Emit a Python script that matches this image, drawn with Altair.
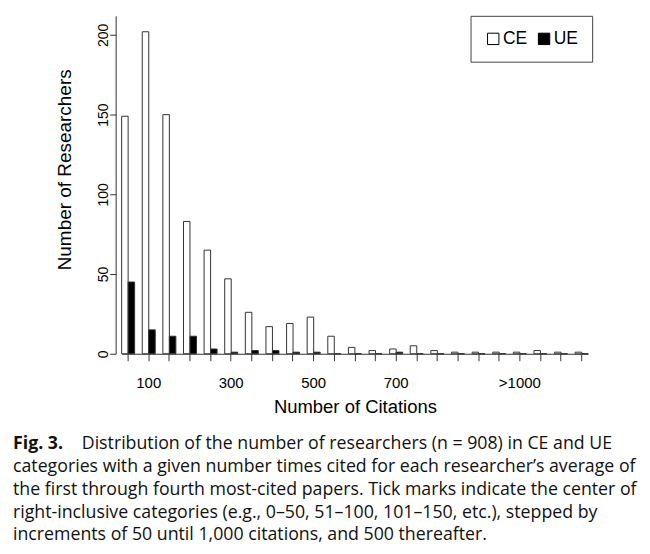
import altair as alt
import pandas as pd

# ---- data ----
categories = ["0–50", "51–100", "101–150", "151–200", "201–250", "251–300",
              "301–350", "351–400", "401–450", "451–500", "501–550", "551–600",
              "601–650", "651–700", "701–750", "751–800", "801–850", "851–900",
              "901–950", "951–1000", "1001–1500", "1501–2000", "2001–2500"]
ce_counts = [149, 202, 150, 83, 65, 47, 26, 17, 19, 23, 11, 4,
             2, 3, 5, 2, 1, 1, 1, 1, 2, 1, 1]
ue_counts = [45, 15, 11, 11, 3, 1, 2, 2, 1, 1, 0, 0,
             0, 1, 0, 0, 0, 0, 0, 0, 0, 0, 0]
series_names = ["CE", "UE"]
series_colors = ["white", "black"]
tick_categories = ["51–100", "251–300", "451–500", "651–700", "951–1000"]
tick_texts = ["100", "300", "500", "700", ">1000"]
y_ticks = [0, 50, 100, 150, 200]
caption_bold = "Fig. 3."
caption_lines = [
    "Distribution of the number of researchers (n = 908) in CE and UE",
    "categories with a given number times cited for each researcher’s average of",
    "the first through fourth most-cited papers. Tick marks indicate the center of",
    "right-inclusive categories (e.g., 0–50, 51–100, 101–150, etc.), stepped by",
    "increments of 50 until 1,000 citations, and 500 thereafter.",
]

rows = []
for c, ce, ue in zip(categories, ce_counts, ue_counts):
    rows.append({"bin": c, "group": series_names[0], "count": ce})
    rows.append({"bin": c, "group": series_names[1], "count": ue})
df = pd.DataFrame(rows)

label_expr = "".join(
    f"datum.value == '{c}' ? '{t}' : " for c, t in zip(tick_categories, tick_texts)
) + "''"

W, H = 468, 339
AXFONT = "Liberation Sans"

bars = alt.Chart(df).mark_bar(stroke="#333333", strokeWidth=1).encode(
    x=alt.X(
        "bin:N", sort=categories,
        scale=alt.Scale(paddingInner=0.37, paddingOuter=0),
        axis=alt.Axis(
            labelExpr=label_expr, labelAngle=0, labelOverlap=False,
            labelFont=AXFONT, labelFontSize=15, labelColor="black",
            labelBaseline="alphabetic", labelPadding=27,
            tickSize=7, tickColor="#333333", domainColor="#333333",
            title="Number of Citations", titleFont=AXFONT, titleFontSize=18.5,
            titleFontWeight="normal", titleColor="black",
            titleBaseline="alphabetic", titleY=59,
        ),
    ),
    xOffset=alt.XOffset("group:N", sort=series_names,
                        scale=alt.Scale(paddingInner=0, paddingOuter=0)),
    y=alt.Y(
        "count:Q",
        scale=alt.Scale(domain=[0, 212], nice=False, zero=True),
        axis=alt.Axis(
            values=y_ticks, grid=False, offset=6,
            labelAngle=270, labelAlign="center", labelBaseline="alphabetic",
            labelPadding=2, labelFont=AXFONT, labelFontSize=14, labelColor="black",
            tickSize=6, tickColor="#333333", domainColor="#333333",
            title="Number of Researchers", titleFont=AXFONT, titleFontSize=19,
            titleFontWeight="normal", titleColor="black", titleAngle=270,
            titleAlign="center", titleBaseline="alphabetic",
            titleX=-45, titleY=154,
        ),
    ),
    color=alt.Color(
        "group:N",
        scale=alt.Scale(domain=series_names, range=series_colors),
        legend=alt.Legend(
            orient="none", legendX=350, legendY=0, direction="horizontal",
            title=None, symbolType="square", symbolSize=130,
            symbolStrokeColor="black", symbolStrokeWidth=1,
            labelFont=AXFONT, labelFontSize=17.5, labelColor="black",
            labelOffset=1, columnPadding=8, padding=14,
            strokeColor="#444444", fillColor="white", cornerRadius=0,
        ),
    ),
)

CAPFONT = "Open Sans"
CAPSIZE = 17.8
base_y = 435
line_h = 22.8

layers = [bars]
layers.append(
    alt.Chart(pd.DataFrame({"t": [caption_bold]})).mark_text(
        align="left", baseline="alphabetic", font=CAPFONT, fontSize=CAPSIZE,
        fontWeight="bold", color="#111111"
    ).encode(text="t:N", x=alt.value(-109), y=alt.value(base_y))
)
for i, line in enumerate(caption_lines):
    layers.append(
        alt.Chart(pd.DataFrame({"t": [line]})).mark_text(
            align="left", baseline="alphabetic", font=CAPFONT, fontSize=CAPSIZE,
            color="#111111"
        ).encode(
            text="t:N",
            x=alt.value(-40 if i == 0 else -109),
            y=alt.value(base_y + line_h * i),
        )
    )

chart = alt.layer(*layers).properties(
    width=W, height=H,
    padding={"left": 114, "top": 7, "right": 54, "bottom": 190},
    autosize=alt.AutoSizeParams(type="none"),
).configure_view(stroke=None)

chart.save("out.html", embed_options={"renderer": "svg", "actions": False})
